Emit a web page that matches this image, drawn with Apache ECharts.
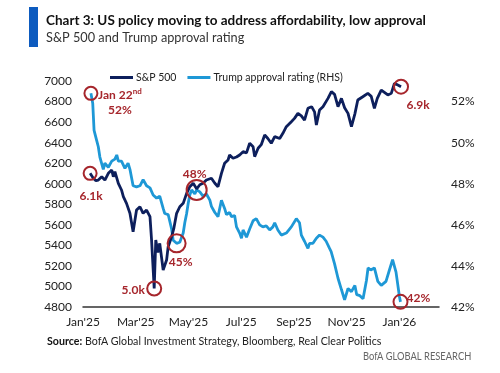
<!DOCTYPE html>
<html>
<head>
<meta charset="utf-8">
<script src="https://cdn.jsdelivr.net/npm/echarts@6/dist/echarts.min.js"></script>
<style>
html,body{margin:0;padding:0;background:#fff;}
#chart{width:500px;height:373px;}
</style>
</head>
<body>
<div id="chart"></div>
<script>
// x positions are in months since Jan 2025 (0 = Jan'25, 12 = Jan'26)
const xTickLabels = ["Jan'25", "Mar'25", "May'25", "Jul'25", "Sep'25", "Nov'25", "Jan'26"];
const leftTicks = [4800, 5000, 5200, 5400, 5600, 5800, 6000, 6200, 6400, 6600, 6800, 7000];
const rightTicks = [42, 44, 46, 48, 50, 52];

const spxMonths = [0.27,0.39,0.49,0.58,0.71,0.83,0.96,1.09,1.15,1.21,1.34,1.46,1.53,1.65,1.78,1.90,2.03,2.16,2.28,2.41,2.54,2.60,2.70,2.76,2.84,2.91,3.04,3.17,3.23,3.36,3.44,3.55,3.67,3.80,3.93,4.05,4.18,4.31,4.43,4.55,4.68,4.87,5.00,5.12,5.25,5.37,5.50,5.56,5.69,5.82,5.94,6.07,6.20,6.32,6.45,6.51,6.64,6.76,6.89,7.01,7.14,7.27,7.46,7.58,7.71,7.90,8.02,8.15,8.28,8.40,8.53,8.67,8.78,8.85,8.97,9.10,9.29,9.42,9.54,9.67,9.80,9.92,10.05,10.18,10.31,10.42,10.61,10.80,10.93,11.05,11.16,11.31,11.43,11.56,11.69,11.81,11.94,12.06];
const spxValues = [6101,6053,6030,6036,6068,6036,6101,6133,6068,6117,6004,5939,5874,5809,5712,5533,5744,5776,5712,5744,5679,5452,4980,5452,5330,5420,5160,5257,5387,5484,5560,5712,5776,5809,5906,5971,6004,5950,5990,6004,6036,6053,6004,5971,6101,6199,6231,6280,6248,6260,6280,6312,6300,6394,6360,6264,6345,6380,6475,6440,6394,6458,6440,6491,6555,6604,6636,6685,6660,6620,6734,6750,6700,6572,6718,6750,6831,6896,6870,6750,6831,6740,6685,6555,6680,6815,6847,6880,6850,6734,6830,6912,6890,6864,6880,6977,6961,6945];

const apprMonths = [0.30,0.37,0.42,0.52,0.58,0.64,0.77,0.83,0.96,1.09,1.21,1.28,1.34,1.46,1.59,1.71,1.78,1.84,1.90,2.03,2.16,2.28,2.41,2.54,2.66,2.79,2.91,3.04,3.10,3.23,3.36,3.42,3.55,3.67,3.80,3.86,3.93,3.99,4.05,4.12,4.24,4.31,4.43,4.55,4.68,4.81,4.87,5.00,5.12,5.25,5.37,5.44,5.56,5.63,5.75,5.82,5.94,6.01,6.07,6.20,6.32,6.45,6.57,6.70,6.82,6.95,7.08,7.20,7.27,7.39,7.52,7.71,7.90,8.09,8.21,8.28,8.40,8.53,8.59,8.72,8.85,8.97,9.10,9.22,9.35,9.41,9.54,9.67,9.80,9.92,10.05,10.18,10.31,10.38,10.50,10.62,10.75,10.81,10.91,11.05,11.18,11.31,11.49,11.62,11.74,11.87,11.93,12.00,12.04];
const apprValues = [52.4,51.9,50.6,50.1,49.8,49.3,48.7,49.0,48.8,49.1,49.2,49.4,49.1,49.1,48.75,49.0,48.7,48.3,47.9,47.85,47.9,48.2,47.9,47.8,47.45,47.3,47.4,46.8,46.55,46.5,45.8,45.25,45.1,45.15,45.6,46.1,46.55,47.05,47.45,47.7,47.5,47.7,47.6,47.4,47.5,47.2,46.9,46.6,46.4,47.2,46.8,46.5,46.6,46.4,46.45,45.9,45.6,45.35,45.75,45.4,45.8,46.2,46.3,46.0,45.9,45.95,45.75,45.9,46.1,45.75,45.5,45.6,45.9,46.3,46.1,45.5,45.2,44.85,45.1,45.1,45.35,45.5,45.4,45.2,44.85,44.7,44.1,43.4,42.85,42.35,42.9,42.75,43.05,42.6,42.55,42.4,43.3,43.9,43.8,43.9,43.25,43.05,43.25,43.8,44.3,43.7,43.15,42.5,42.25];

const NAVY = '#0d1f5c';
const SKY = '#1e98d6';
const RED = '#a6262c';
const FONT = 'Lato, "Open Sans", sans-serif';

const spxData = spxMonths.map((m, i) => [m, spxValues[i]]);
const apprData = apprMonths.map((m, i) => [m, apprValues[i]]);

const spxMinIdx = spxValues.indexOf(Math.min(...spxValues));
const spxLast = spxValues.length - 1;
const apprLast = apprValues.length - 1;
const appr45Idx = apprMonths.indexOf(3.55);
const appr48Idx = apprMonths.indexOf(4.31);

function mark(data, idx, size, text, offset) {
  return {
    coord: data[idx],
    symbol: 'circle',
    symbolSize: size,
    itemStyle: { color: 'rgba(0,0,0,0)', borderColor: RED, borderWidth: 2 },
    label: {
      show: true, position: 'inside', offset: offset, formatter: text,
      color: RED, fontWeight: 'bold', fontSize: 12, fontFamily: FONT, align: 'center', lineHeight: 15,
      rich: { sup: { fontSize: 8, fontWeight: 'bold', color: RED, padding: [0, 0, 6, 0], fontFamily: FONT } }
    }
  };
}

const chart = echarts.init(document.getElementById('chart'), null, { renderer: 'canvas' });
chart.setOption({
  animation: false,
  backgroundColor: '#fff',
  graphic: [
    { type: 'rect', left: 29, top: 7, shape: { width: 9, height: 40 }, style: { fill: '#0d5bbf' } },
    { type: 'text', left: 46, top: 13, scaleX: 0.965, style: { text: 'Chart 3: US policy moving to address affordability, low approval', font: 'bold 14px ' + FONT, fill: '#111' } },
    { type: 'text', left: 46, top: 30, scaleX: 0.91, style: { text: 'S&P 500 and Trump approval rating', font: '14px ' + FONT, fill: '#333' } },
    { type: 'text', left: 47, top: 336, scaleX: 0.968, style: { text: '{b|Source:} BofA Global Investment Strategy, Bloomberg, Real Clear Politics', font: '11px ' + FONT, fill: '#222', rich: { b: { fontWeight: 'bold', fontSize: 11, fontFamily: FONT, fill: '#111' } } } },
    { type: 'text', left: 363, top: 351, scaleX: 0.85, style: { text: 'BofA GLOBAL RESEARCH', font: '11px ' + FONT, fill: '#666' } }
  ],
  legend: {
    left: 105, top: 67, itemWidth: 23, itemHeight: 3, itemGap: 11, icon: 'rect',
    textStyle: { fontSize: 10.5, color: '#222', fontFamily: FONT, padding: [0, 0, 0, -2] },
    data: ['S&P 500', 'Trump approval rating (RHS)']
  },
  grid: { left: 83, right: 61, top: 81, bottom: 66 },
  xAxis: {
    type: 'value', min: 0, max: 13.5, interval: 2,
    axisLine: { show: true, lineStyle: { color: '#333', width: 1.5 } },
    axisTick: { show: false }, splitLine: { show: false },
    axisLabel: {
      color: '#222', fontSize: 12, fontFamily: FONT, margin: 9,
      formatter: v => (Number.isInteger(v) && v % 2 === 0 && v / 2 < xTickLabels.length) ? xTickLabels[v / 2] : ''
    }
  },
  yAxis: [
    {
      type: 'value', min: leftTicks[0], max: leftTicks[leftTicks.length - 1], interval: 200,
      axisLine: { show: false }, axisTick: { show: false }, splitLine: { show: false },
      axisLabel: { color: '#222', fontSize: 12, fontFamily: FONT, margin: 11,
        formatter: v => leftTicks.indexOf(v) >= 0 ? String(v) : '' }
    },
    {
      type: 'value', min: rightTicks[0], max: 53, interval: 2, position: 'right',
      axisLine: { show: false }, axisTick: { show: false }, splitLine: { show: false },
      axisLabel: { color: '#222', fontSize: 12, fontFamily: FONT, margin: 12, showMaxLabel: false,
        formatter: v => rightTicks.indexOf(v) >= 0 ? v + '%' : '' }
    }
  ],
  series: [
    {
      name: 'S&P 500', type: 'line', yAxisIndex: 0, data: spxData, showSymbol: false, symbol: 'none',
      lineStyle: { color: NAVY, width: 2.8 }, itemStyle: { color: NAVY }, z: 3,
      markPoint: {
        silent: true,
        data: [
          mark(spxData, 0, 13, '6.1k', [1, 23]),
          mark(spxData, spxMinIdx, 14, '5.0k', [-21, 2]),
          mark(spxData, spxLast, 14, '6.9k', [17, 18])
        ]
      }
    },
    {
      name: 'Trump approval rating (RHS)', type: 'line', yAxisIndex: 1, data: apprData, showSymbol: false, symbol: 'none',
      lineStyle: { color: SKY, width: 2.8 }, itemStyle: { color: SKY }, z: 2,
      markPoint: {
        silent: true,
        data: [
          mark(apprData, 0, 13, 'Jan 22{sup|nd}\n52%', [29, 9]),
          mark(apprData, appr45Idx, 18, '45%', [4, 19]),
          mark(apprData, appr48Idx, 20, '48%', [-2, -16]),
          mark(apprData, apprLast, 14, '42%', [18, -4])
        ]
      }
    }
  ]
});
</script>
</body>
</html>
